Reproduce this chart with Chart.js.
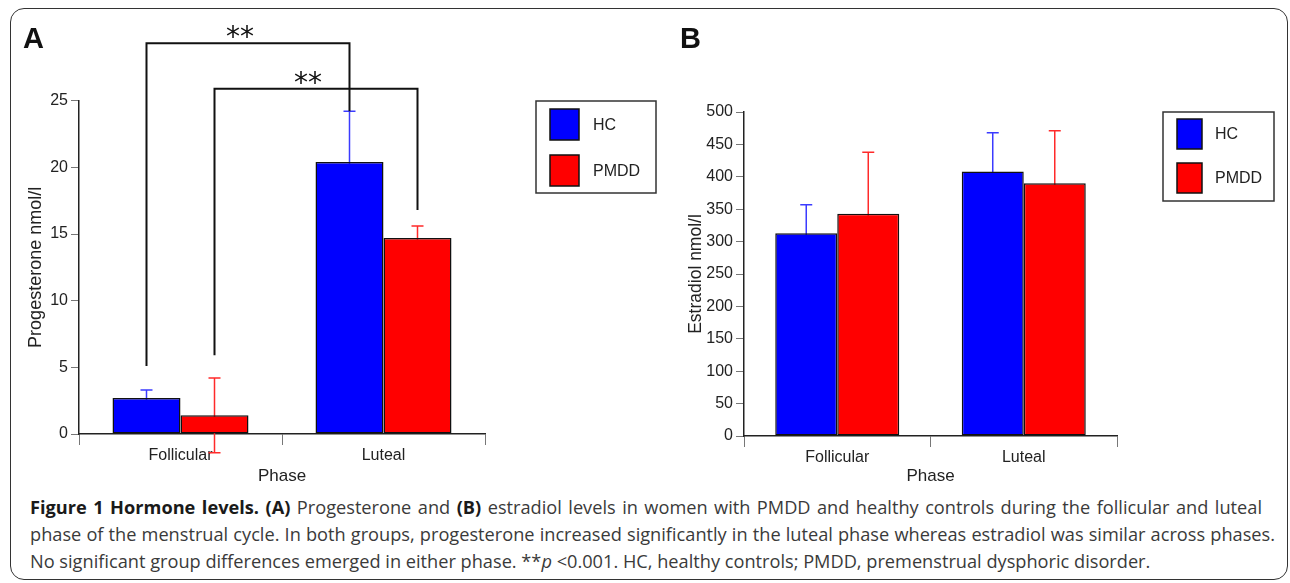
<!DOCTYPE html>
<html>
<head>
<meta charset="utf-8">
<script src="https://cdn.jsdelivr.net/npm/chart.js@4.4.0/dist/chart.umd.min.js"></script>
<style>
html,body{margin:0;padding:0;background:#fff;}
#wrap{position:relative;width:1290px;height:583px;overflow:hidden;background:#fff;}
#frame{position:absolute;left:10px;top:8px;width:1278px;height:572px;border:1.5px solid #333;border-radius:14px;box-sizing:border-box;}
.panel{position:absolute;top:0;}
#cA{left:0;}
#cB{left:660px;}
.letter{position:absolute;font-family:"Liberation Sans",Arial,sans-serif;font-weight:bold;font-size:29px;line-height:29px;color:#111;}
#caption{position:absolute;left:30px;top:494px;width:1245px;font-family:"Open Sans",sans-serif;font-size:18.2px;line-height:27px;color:#3a3a3a;white-space:nowrap;}
#caption .j{text-align:justify;text-align-last:justify;white-space:normal;}
#caption b{color:#1a1a1a;font-weight:700;}
</style>
</head>
<body>
<div id="wrap">
  <div id="frame"></div>
  <canvas id="cA" class="panel" width="660" height="490"></canvas>
  <canvas id="cB" class="panel" width="630" height="490"></canvas>
  <div class="letter" style="left:23px;top:24px;">A</div>
  <div class="letter" style="left:680px;top:24px;">B</div>
  <div id="caption">
    <div class="j" style="width:1232px;"><b>Figure 1 Hormone levels. (A)</b> Progesterone and <b>(B)</b> estradiol levels in women with PMDD and healthy controls during the follicular and luteal</div>
    <div class="j">phase of the menstrual cycle. In both groups, progesterone increased significantly in the luteal phase whereas estradiol was similar across phases.</div>
    <div>No significant group differences emerged in either phase. **<i>p</i> &lt;0.001. HC, healthy controls; PMDD, premenstrual dysphoric disorder.</div>
  </div>
</div>
<script>
// ---------- data ----------
const categories = ['Follicular', 'Luteal'];
const seriesNames = ['HC', 'PMDD'];

const progesteroneHC = [2.7, 20.4];
const progesteronePMDD = [1.4, 14.7];
const progesteroneErrHC = [0.6, 3.8];
const progesteroneErrPMDD = [2.8, 0.9];
const progesteroneTicks = [0, 5, 10, 15, 20, 25];

const estradiolHC = [313, 408];
const estradiolPMDD = [343, 390];
const estradiolErrHC = [44, 60];
const estradiolErrPMDD = [95, 81];
const estradiolTicks = [0, 50, 100, 150, 200, 250, 300, 350, 400, 450, 500];

// significance brackets (series index, category from/to, leg bottoms and bracket level in data units)
const progesteroneSignif = [
  { series: 0, from: 0, to: 1, fromBase: 5.1, toBase: 24.2, level: 29.3, label: '**' },
  { series: 1, from: 0, to: 1, fromBase: 5.9, toBase: 16.8, level: 25.9, label: '**' }
];

// ---------- styling ----------
Chart.defaults.font.family = '"Liberation Sans", Arial, sans-serif';
Chart.defaults.color = '#222';
const fillColors = ['#0000ff', '#ff0000'];
const errColors = ['#3b3bff', '#ff2a2a'];

const errorBars = {
  id: 'errorBars',
  beforeDatasetsDraw(chart) {
    const ctx = chart.ctx, y = chart.scales.y;
    chart.data.datasets.forEach((ds, i) => {
      const meta = chart.getDatasetMeta(i);
      meta.data.forEach((bar, j) => {
        const v = ds.data[j], e = ds.errors[j];
        const top = y.getPixelForValue(v + e), bot = y.getPixelForValue(v - e);
        ctx.save();
        ctx.strokeStyle = ds.errorColor;
        ctx.lineWidth = 1.5;
        ctx.beginPath();
        ctx.moveTo(bar.x, top); ctx.lineTo(bar.x, bot);
        ctx.moveTo(bar.x - 6, top); ctx.lineTo(bar.x + 6, top);
        ctx.moveTo(bar.x - 6, bot); ctx.lineTo(bar.x + 6, bot);
        ctx.stroke();
        ctx.restore();
      });
    });
  }
};

const boxLegend = {
  id: 'boxLegend',
  afterDraw(chart, args, o) {
    const ctx = chart.ctx;
    ctx.save();
    ctx.strokeStyle = '#333';
    ctx.lineWidth = 1.5;
    ctx.strokeRect(o.x, o.y, o.w, o.h);
    chart.data.datasets.forEach((ds, i) => {
      const sy = o.y + o.swTop + i * o.gap;
      ctx.fillStyle = ds.backgroundColor;
      ctx.fillRect(o.x + o.swLeft, sy, o.sw, o.sh);
      ctx.strokeStyle = '#111';
      ctx.strokeRect(o.x + o.swLeft, sy, o.sw, o.sh);
      ctx.fillStyle = '#222';
      ctx.font = '16px "Liberation Sans", Arial, sans-serif';
      ctx.textBaseline = 'middle';
      ctx.textAlign = 'left';
      ctx.fillText(ds.label, o.x + o.textLeft, sy + o.sh / 2 + 1);
    });
    ctx.restore();
  }
};

const brackets = {
  id: 'brackets',
  afterDraw(chart, args, o) {
    if (!o.items) return;
    const ctx = chart.ctx, y = chart.scales.y;
    o.items.forEach(b => {
      const meta = chart.getDatasetMeta(b.series);
      const x1 = meta.data[b.from].x, x2 = meta.data[b.to].x;
      const yl = y.getPixelForValue(b.level);
      ctx.save();
      ctx.strokeStyle = '#111';
      ctx.lineWidth = 2;
      ctx.beginPath();
      ctx.moveTo(x1, y.getPixelForValue(b.fromBase));
      ctx.lineTo(x1, yl);
      ctx.lineTo(x2, yl);
      ctx.lineTo(x2, y.getPixelForValue(b.toBase));
      ctx.stroke();
      ctx.fillStyle = '#111';
      ctx.font = '28px "DejaVu Sans", sans-serif';
      ctx.textAlign = 'center';
      ctx.textBaseline = 'alphabetic';
      ctx.fillText(b.label, (x1 + x2) / 2 - 8, yl + 3);
      ctx.restore();
    });
  }
};

function makeChart(id, valsHC, valsPMDD, errHC, errPMDD, ticks, yTitle, geom, signif) {
  const allVals = [valsHC, valsPMDD], allErr = [errHC, errPMDD];
  return new Chart(document.getElementById(id), {
    type: 'bar',
    data: {
      labels: categories,
      datasets: seriesNames.map((name, i) => ({
        label: name,
        data: allVals[i],
        errors: allErr[i],
        errorColor: errColors[i],
        backgroundColor: fillColors[i],
        borderColor: '#111',
        borderWidth: 1.5,
        borderSkipped: false,
        categoryPercentage: geom.cat,
        barPercentage: 1.0
      }))
    },
    options: {
      responsive: false,
      animation: false,
      devicePixelRatio: 1,
      layout: { padding: { left: 20, top: geom.top, right: geom.right, bottom: 0 } },
      plugins: {
        legend: { display: false },
        tooltip: { enabled: false },
        boxLegend: geom.legend,
        brackets: { items: signif }
      },
      scales: {
        x: {
          type: 'category',
          offset: true,
          afterFit(s) { s.height = geom.xh; },
          grid: { display: true, offset: true, drawOnChartArea: false, tickLength: 11, color: '#777', lineWidth: 1 },
          border: { display: true, color: '#222', width: 1.5 },
          ticks: { font: { size: 16 }, color: '#222', padding: 1, maxRotation: 0 },
          title: { display: true, text: 'Phase', font: { size: 17 }, color: '#222', padding: { top: 0, bottom: 3 } }
        },
        y: {
          min: ticks[0],
          max: ticks[ticks.length - 1],
          afterFit(s) { s.width = geom.yw; },
          afterBuildTicks(s) { s.ticks = ticks.map(v => ({ value: v })); },
          grid: { display: true, drawOnChartArea: false, tickLength: 8, color: '#777', lineWidth: 1 },
          border: { display: true, color: '#222', width: 1.5 },
          ticks: { font: { size: 16 }, color: '#222', padding: 3 },
          title: { display: true, text: yTitle, font: { size: geom.titleSize }, color: '#222', padding: { top: geom.titlePad, bottom: 0 } }
        }
      }
    },
    plugins: [errorBars, boxLegend, brackets]
  });
}

makeChart('cA', progesteroneHC, progesteronePMDD, progesteroneErrHC, progesteroneErrPMDD,
  progesteroneTicks, 'Progesterone nmol/l',
  { cat: 0.67, top: 100.7, right: 175, xh: 56, yw: 59, titleSize: 18, titlePad: 5,
    legend: { x: 536, y: 101, w: 120, h: 92, swLeft: 14, swTop: 8, sw: 29, sh: 31, gap: 46, textLeft: 57 } },
  progesteroneSignif);

makeChart('cB', estradiolHC, estradiolPMDD, estradiolErrHC, estradiolErrPMDD,
  estradiolTicks, 'Estradiol nmol/l',
  { cat: 0.665, top: 112, right: 173, xh: 54, yw: 64, titleSize: 17.5, titlePad: 6,
    legend: { x: 503, y: 112, w: 111, h: 89, swLeft: 14, swTop: 7, sw: 25, sh: 30, gap: 44, textLeft: 52 } },
  null);
</script>
</body>
</html>
